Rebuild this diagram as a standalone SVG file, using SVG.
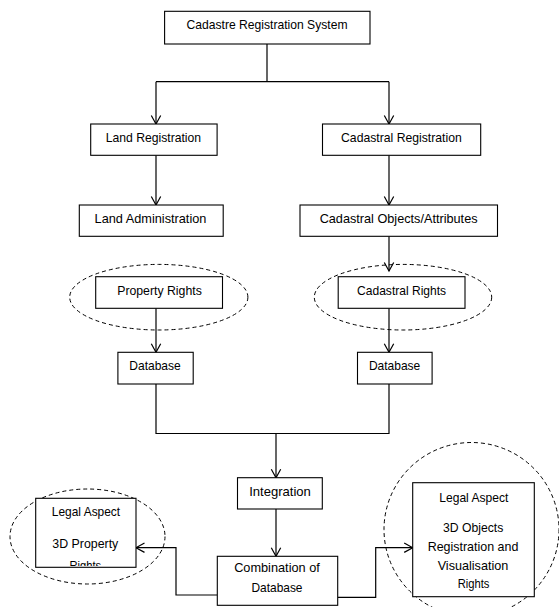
<svg xmlns="http://www.w3.org/2000/svg" width="559" height="607" viewBox="0 0 559 607">
  <style>
    .box { fill: #fff; stroke: #000; stroke-width: 1.1; }
    .oval { fill: none; stroke: #000; stroke-width: 1; stroke-dasharray: 4 3; }
    .lbl { font-family: "Liberation Sans", Arial, sans-serif; font-size: 13px; fill: #000; text-anchor: middle; }
    .wire { fill: none; stroke: #000; stroke-width: 1.2; }
    .arrow { marker-end: url(#head); }
  </style>
  <defs>
    <marker id="head" viewBox="-10 -6 12 12" refX="0" refY="0" markerWidth="12" markerHeight="12" markerUnits="userSpaceOnUse" orient="auto">
      <path d="M-8.5,-4.7 L0,0 L-8.5,4.7" fill="none" stroke="#000" stroke-width="1.2"/>
    </marker>
    <clipPath id="legal-left-clip">
      <rect x="36.5" y="499" width="99" height="67"/>
    </clipPath>
  </defs>
  <rect width="559" height="607" fill="#fff"/>

  <!-- dashed groupings -->
  <g id="groupings">
    <ellipse class="oval" cx="158.8" cy="297.2" rx="89.1" ry="32.8"/>
    <ellipse class="oval" cx="403" cy="297.2" rx="88.7" ry="32.8"/>
    <ellipse class="oval" cx="87.5" cy="536.5" rx="77.5" ry="47.5"/>
    <ellipse class="oval" cx="471.5" cy="529.5" rx="87.5" ry="87"/>
  </g>

  <!-- connectors -->
  <g id="connectors">
    <path class="wire" d="M267,44 V81.7 M156,81.7 H389"/>
    <path class="wire arrow" d="M156,81.7 V124"/>
    <path class="wire arrow" d="M389,81.7 V124"/>
    <path class="wire arrow" d="M156,155.3 V205"/>
    <path class="wire arrow" d="M389,155.3 V205"/>
    <path class="wire arrow" d="M389,236.3 V271"/>
    <path class="wire arrow" d="M156,308.3 V352.3"/>
    <path class="wire arrow" d="M389,308.3 V352.3"/>
    <path class="wire" d="M156,384 V433.5 H389 V384"/>
    <path class="wire arrow" d="M276,433.5 V477.7"/>
    <path class="wire arrow" d="M276,509 V556.3"/>
    <path class="wire arrow" d="M217.3,595 H176 V547.7 H136"/>
    <path class="wire arrow" d="M337.7,597.3 H375.7 V547.7 H412.7"/>
  </g>

  <g id="cadastre-registration-system">
    <rect class="box" x="164.6" y="11.3" width="205.4" height="32.7"/>
    <text class="lbl" x="267" y="29.3" textLength="161" lengthAdjust="spacingAndGlyphs">Cadastre Registration System</text>
  </g>

  <g id="land-registration">
    <rect class="box" x="90.7" y="124" width="126.4" height="31.3"/>
    <text class="lbl" x="153.4" y="141.7" textLength="95.4" lengthAdjust="spacingAndGlyphs">Land Registration</text>
  </g>

  <g id="cadastral-registration">
    <rect class="box" x="322.5" y="124" width="158.2" height="31.3"/>
    <text class="lbl" x="401.4" y="141.7" textLength="120.7" lengthAdjust="spacingAndGlyphs">Cadastral Registration</text>
  </g>

  <g id="land-administration">
    <rect class="box" x="79.3" y="205" width="143.9" height="31.3"/>
    <text class="lbl" x="150.5" y="222.7" textLength="111.8" lengthAdjust="spacingAndGlyphs">Land Administration</text>
  </g>

  <g id="cadastral-objects">
    <rect class="box" x="300" y="205" width="197.5" height="31.3"/>
    <text class="lbl" x="398.6" y="222.7" textLength="157.9" lengthAdjust="spacingAndGlyphs">Cadastral Objects/Attributes</text>
  </g>

  <g id="property-rights">
    <rect class="box" x="95.7" y="276.7" width="126.8" height="31.6"/>
    <text class="lbl" x="159.5" y="295" textLength="84.6" lengthAdjust="spacingAndGlyphs">Property Rights</text>
  </g>

  <g id="cadastral-rights">
    <rect class="box" x="338.2" y="276.7" width="126.8" height="31.6"/>
    <text class="lbl" x="401.6" y="295" textLength="89" lengthAdjust="spacingAndGlyphs">Cadastral Rights</text>
  </g>

  <g id="database-left">
    <rect class="box" x="117.9" y="352.3" width="75.3" height="31.7"/>
    <text class="lbl" x="155" y="370" textLength="51.4" lengthAdjust="spacingAndGlyphs">Database</text>
  </g>

  <g id="database-right">
    <rect class="box" x="357.5" y="352.3" width="74.6" height="31.7"/>
    <text class="lbl" x="394.6" y="370" textLength="51.4" lengthAdjust="spacingAndGlyphs">Database</text>
  </g>

  <g id="integration">
    <rect class="box" x="237.5" y="477.7" width="84.8" height="31.3"/>
    <text class="lbl" x="280" y="496" textLength="61.7" lengthAdjust="spacingAndGlyphs">Integration</text>
  </g>

  <g id="combination-of-database">
    <rect class="box" x="217.3" y="556.3" width="120.4" height="49"/>
    <text class="lbl" x="277" y="571.7" textLength="85.7" lengthAdjust="spacingAndGlyphs">Combination of</text>
    <text class="lbl" x="277" y="591.7" textLength="51" lengthAdjust="spacingAndGlyphs">Database</text>
  </g>

  <g id="legal-aspect-property">
    <rect class="box" x="35.7" y="498.3" width="100.3" height="69"/>
    <g clip-path="url(#legal-left-clip)">
      <text class="lbl" x="86" y="516" textLength="68.3" lengthAdjust="spacingAndGlyphs">Legal Aspect</text>
      <text class="lbl" x="85.3" y="548.3" textLength="66" lengthAdjust="spacingAndGlyphs">3D Property</text>
      <text class="lbl" x="85.3" y="569.5" textLength="31.7" lengthAdjust="spacingAndGlyphs">Rights</text>
    </g>
  </g>

  <g id="legal-aspect-objects">
    <rect class="box" x="412.7" y="482.7" width="121.6" height="114"/>
    <text class="lbl" x="473.8" y="501.7" textLength="69" lengthAdjust="spacingAndGlyphs">Legal Aspect</text>
    <text class="lbl" x="473.2" y="531.7" textLength="60.3" lengthAdjust="spacingAndGlyphs">3D Objects</text>
    <text class="lbl" x="473" y="550.7" textLength="90.7" lengthAdjust="spacingAndGlyphs">Registration and</text>
    <text class="lbl" x="473" y="569.7" textLength="70.7" lengthAdjust="spacingAndGlyphs">Visualisation</text>
    <text class="lbl" x="473.5" y="588.3" textLength="31.7" lengthAdjust="spacingAndGlyphs">Rights</text>
  </g>
</svg>
